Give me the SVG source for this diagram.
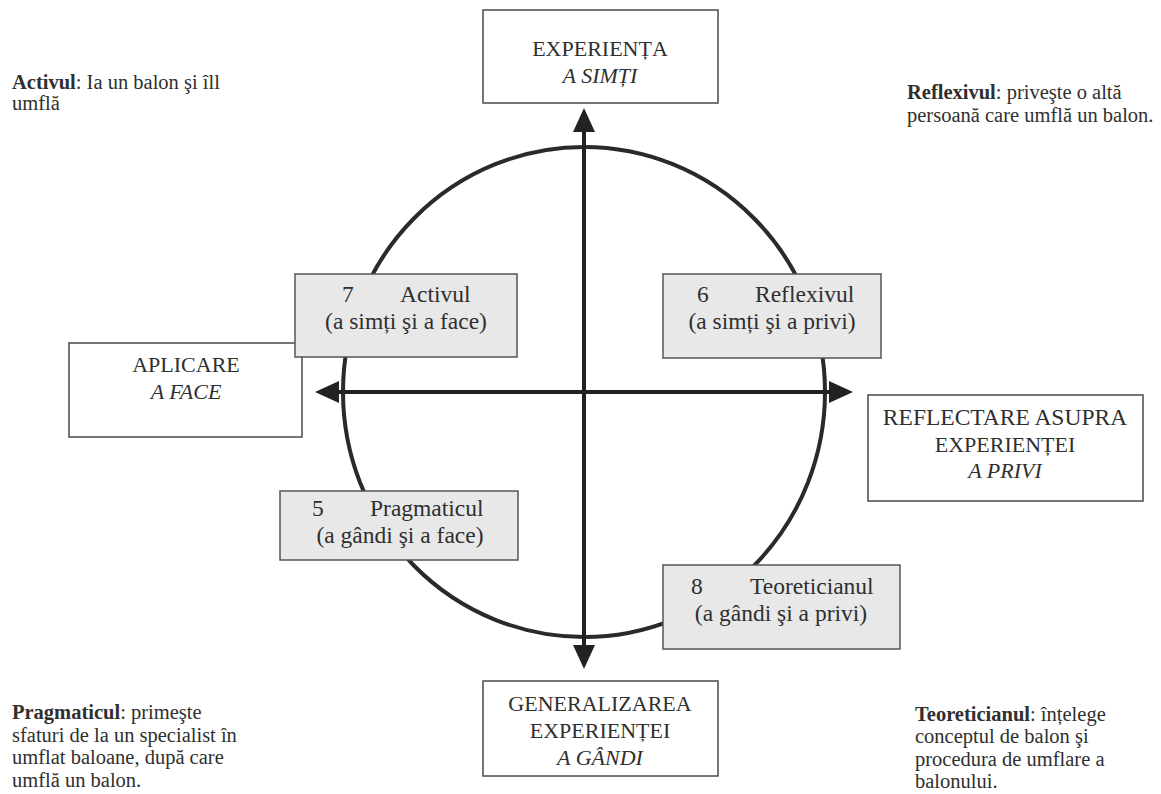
<svg xmlns="http://www.w3.org/2000/svg" width="1161" height="794" viewBox="0 0 1161 794">
<style>
  text { font-family: "Liberation Serif", "DejaVu Serif", serif; fill: #2f2f2f; }
  .lbl { font-size: 22px; text-anchor: middle; }
  .g { font-size: 23.5px; }
  .it { font-style: italic; }
  .note { font-size: 20.5px; }
  .b { font-weight: bold; }
  .wbox { fill: #ffffff; stroke: #4a4a4a; stroke-width: 1.5; }
  .gbox { fill: #e8e8e8; stroke: #555555; stroke-width: 1.5; }
  .axis { stroke: #222222; stroke-width: 4; fill: none; }
</style>
<defs>
  <marker id="ah" markerUnits="userSpaceOnUse" markerWidth="26" markerHeight="24" refX="12" refY="11" orient="auto-start-reverse" viewBox="0 0 26 24">
    <path d="M0,0 L24,11 L0,22 z" fill="#222222"/>
  </marker>
</defs>
<rect width="1161" height="794" fill="#ffffff"/>

<ellipse cx="584" cy="392" rx="241" ry="245" fill="none" stroke="#2a2a2a" stroke-width="4"/>

<g id="connectors">
  <line class="axis" x1="584" y1="120" x2="584" y2="657" marker-start="url(#ah)" marker-end="url(#ah)"/>
  <line class="axis" x1="327" y1="392" x2="841" y2="392" marker-start="url(#ah)" marker-end="url(#ah)"/>
</g>

<g id="experienta">
  <rect class="wbox" x="483" y="10" width="235" height="93"/>
  <text class="lbl" x="600" y="56">EXPERIENȚA</text>
  <text class="lbl it" x="600" y="83">A SIMȚI</text>
</g>
<g id="aplicare">
  <rect class="wbox" x="69" y="343" width="233" height="94"/>
  <text class="lbl" x="186" y="372">APLICARE</text>
  <text class="lbl it" x="186" y="399">A FACE</text>
</g>
<g id="reflectare">
  <rect class="wbox" x="868" y="395" width="275" height="106"/>
  <text class="lbl" x="1005" y="425" style="font-size:23.5px">REFLECTARE ASUPRA</text>
  <text class="lbl" x="1005" y="452">EXPERIENȚEI</text>
  <text class="lbl it" x="1005" y="478">A PRIVI</text>
</g>
<g id="generalizarea">
  <rect class="wbox" x="483" y="681" width="235" height="95"/>
  <text class="lbl" x="600" y="711">GENERALIZAREA</text>
  <text class="lbl" x="600" y="738">EXPERIENȚEI</text>
  <text class="lbl it" x="600" y="765">A GÂNDI</text>
</g>

<g id="activul">
  <rect class="gbox" x="295" y="274" width="222" height="83"/>
  <text class="lbl g" style="text-anchor:start" x="342" y="302">7</text>
  <text class="lbl g" style="text-anchor:start" x="400" y="302">Activul</text>
  <text class="lbl g" x="406" y="329">(a simți şi a face)</text>
</g>
<g id="reflexivul">
  <rect class="gbox" x="663" y="274" width="218" height="84"/>
  <text class="lbl g" style="text-anchor:start" x="697" y="302">6</text>
  <text class="lbl g" style="text-anchor:start" x="755" y="302">Reflexivul</text>
  <text class="lbl g" x="772" y="329">(a simți şi a privi)</text>
</g>
<g id="pragmaticul">
  <rect class="gbox" x="280" y="491" width="238" height="69"/>
  <text class="lbl g" style="text-anchor:start" x="312" y="516">5</text>
  <text class="lbl g" style="text-anchor:start" x="370" y="516">Pragmaticul</text>
  <text class="lbl g" x="400" y="543">(a gândi şi a face)</text>
</g>
<g id="teoreticianul">
  <rect class="gbox" x="663" y="565" width="237" height="84"/>
  <text class="lbl g" style="text-anchor:start" x="691" y="594">8</text>
  <text class="lbl g" style="text-anchor:start" x="750" y="594">Teoreticianul</text>
  <text class="lbl g" x="781" y="621">(a gândi şi a privi)</text>
</g>

<g id="note-activul">
  <text class="note" x="12" y="89"><tspan class="b">Activul</tspan>: Ia un balon şi îll</text>
  <text class="note" x="12" y="110">umflă</text>
</g>
<g id="note-reflexivul">
  <text class="note" x="907" y="99"><tspan class="b">Reflexivul</tspan>: priveşte o altă</text>
  <text class="note" x="907" y="122">persoană care umflă un balon.</text>
</g>
<g id="note-pragmaticul">
  <text class="note" x="12" y="719"><tspan class="b">Pragmaticul</tspan>: primeşte</text>
  <text class="note" x="12" y="742">sfaturi de la un specialist în</text>
  <text class="note" x="12" y="764">umflat baloane, după care</text>
  <text class="note" x="12" y="787">umflă un balon.</text>
</g>
<g id="note-teoreticianul">
  <text class="note" x="915" y="721"><tspan class="b">Teoreticianul</tspan>: înțelege</text>
  <text class="note" x="915" y="743">conceptul de balon şi</text>
  <text class="note" x="915" y="766">procedura de umflare a</text>
  <text class="note" x="915" y="788">balonului.</text>
</g>
</svg>
